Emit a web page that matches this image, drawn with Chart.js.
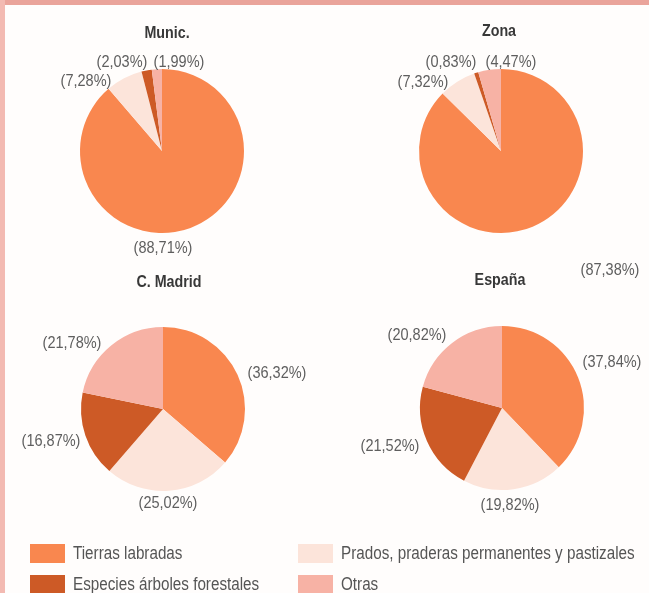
<!DOCTYPE html>
<html>
<head>
<meta charset="utf-8">
<script src="https://cdn.jsdelivr.net/npm/chart.js@4.4.0/dist/chart.umd.min.js"></script>
<style>
  html, body { margin: 0; padding: 0; }
  body {
    width: 649px; height: 593px; overflow: hidden; position: relative;
    background: #fffdfc;
    font-family: "Liberation Sans", Arial, sans-serif;
  }
  .topband { position: absolute; left: 0; top: 0; width: 649px; height: 5px; background: #eaa49b; }
  .leftband { position: absolute; left: 0; top: 0; width: 5px; height: 593px; background: #f3bab2; }
  canvas { position: absolute; }
  .legend-item { position: absolute; display: flex; align-items: center; font-size: 17.5px; color: #555; white-space: nowrap; }
  .legend-item span.sw { display: inline-block; width: 35px; height: 19px; margin-right: 8px; }
  .legend-item span.txt { display: inline-block; transform: scaleX(0.87); transform-origin: left center; }
</style>
</head>
<body>
<div class="topband"></div>
<div class="leftband"></div>

<canvas id="pieMunic" width="300" height="272" style="left:12px; top:8px"></canvas>
<canvas id="pieZona" width="300" height="272" style="left:351px; top:8px"></canvas>
<canvas id="pieMadrid" width="300" height="272" style="left:13px; top:262px"></canvas>
<canvas id="pieEspana" width="300" height="272" style="left:352px; top:262px"></canvas>

<div id="legend"></div>

<script>
// categories and colours (clockwise from 12 o'clock)
const categories = [
    "Tierras labradas",
    "Prados, praderas permanentes y pastizales",
    "Especies árboles forestales",
    "Otras"
];
const colors = ["#f9874f", "#fce4da", "#cd5a26", "#f7b2a5"];

// percentages per territory
const municValues = [88.71, 7.28, 2.03, 1.99];
const zonaValues = [87.38, 7.32, 0.83, 4.47];
const madridValues = [36.32, 25.02, 16.87, 21.78];
const espanaValues = [37.84, 19.82, 21.52, 20.82];

const municLabels = ["(88,71%)", "(7,28%)", "(2,03%)", "(1,99%)"];
const zonaLabels = ["(87,38%)", "(7,32%)", "(0,83%)", "(4,47%)"];
const madridLabels = ["(36,32%)", "(25,02%)", "(16,87%)", "(21,78%)"];
const espanaLabels = ["(37,84%)", "(19,82%)", "(21,52%)", "(20,82%)"];

// where the percentage texts sit, relative to the pie centre
const municLabelPos = [[1, 97], [-76, -70], [-40, -89], [17, -89]];
const zonaLabelPos = [[109, 119], [-78, -69], [-50, -89], [10, -89]];
const madridLabelPos = [[114, -36], [5, 94], [-112, 32], [-91, -66]];
const espanaLabelPos = [[110, -46], [8, 97], [-112, 38], [-85, -73]];

// narrow text: the original uses a condensed face
function narrowText(ctx, txt, x, y, squeeze) {
    ctx.save();
    ctx.translate(x, y);
    ctx.scale(squeeze, 1);
    ctx.fillText(txt, 0, 0);
    ctx.restore();
}

// pie label + title plugin
const pieText = {
    id: "pieText",
    afterDatasetsDraw(chart, args, opts) {
        const ctx = chart.ctx;
        const arc = chart.getDatasetMeta(0).data[0];
        const cx = arc.x, cy = arc.y;

        ctx.save();
        ctx.textAlign = "center";
        ctx.textBaseline = "middle";

        ctx.fillStyle = "#383838";
        ctx.font = "bold 17px 'Liberation Sans', Arial, sans-serif";
        narrowText(ctx, opts.title, cx + opts.titlePos[0], cy + opts.titlePos[1], 0.84);

        ctx.fillStyle = "#5e5e5e";
        ctx.font = "16.5px 'Liberation Sans', Arial, sans-serif";
        opts.labels.forEach((txt, i) => {
            narrowText(ctx, txt, cx + opts.labelPos[i][0], cy + opts.labelPos[i][1], 0.88);
        });
        ctx.restore();
    }
};

function makePie(id, values, labels, labelPos, title, titlePos, padTop, padBottom) {
    const ctx = document.getElementById(id).getContext("2d");
    return new Chart(ctx, {
        type: "pie",
        data: {
            labels: categories,
            datasets: [{
                data: values,
                backgroundColor: colors,
                borderWidth: 0,
                hoverOffset: 0
            }]
        },
        options: {
            responsive: false,
            animation: false,
            layout: { padding: { top: padTop, bottom: padBottom, left: 0, right: 0 } },
            plugins: {
                legend: { display: false },
                tooltip: { enabled: false },
                pieText: { labels: labels, labelPos: labelPos, title: title, titlePos: titlePos }
            }
        },
        plugins: [pieText]
    });
}

makePie("pieMunic", municValues, municLabels, municLabelPos, "Munic.", [5, -118], 61, 47);
makePie("pieZona", zonaValues, zonaLabels, zonaLabelPos, "Zona", [-2, -120], 61, 47);
makePie("pieMadrid", madridValues, madridLabels, madridLabelPos, "C. Madrid", [6, -127], 65, 43);
makePie("pieEspana", espanaValues, espanaLabels, espanaLabelPos, "España", [-2, -128], 64, 44);

// legend at the bottom, two columns
const legendSlots = [[30, 543], [298, 543], [30, 574], [298, 574]];
const legend = document.getElementById("legend");
categories.forEach((name, i) => {
    const item = document.createElement("div");
    item.className = "legend-item";
    item.style.left = legendSlots[i][0] + "px";
    item.style.top = legendSlots[i][1] + "px";
    const sw = document.createElement("span");
    sw.className = "sw";
    sw.style.background = colors[i];
    const txt = document.createElement("span");
    txt.className = "txt";
    txt.textContent = name;
    item.appendChild(sw);
    item.appendChild(txt);
    legend.appendChild(item);
});
</script>
</body>
</html>
